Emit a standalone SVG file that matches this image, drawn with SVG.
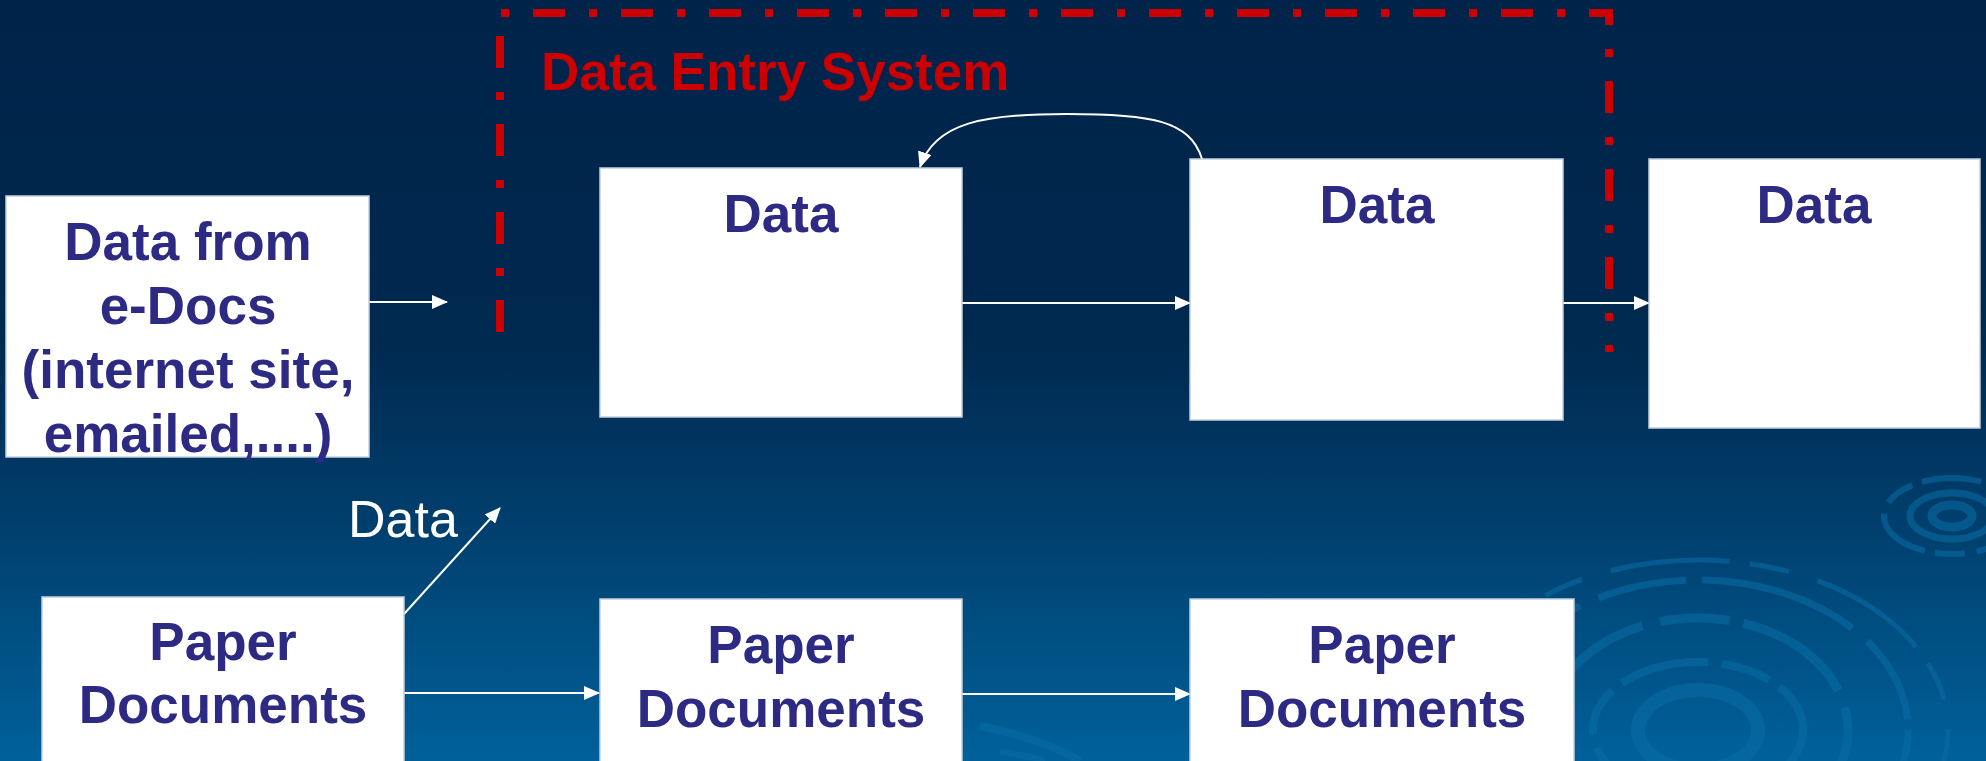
<svg xmlns="http://www.w3.org/2000/svg" width="1986" height="761" viewBox="0 0 1986 761">
<defs>
<linearGradient id="bg" x1="0" y1="0" x2="0" y2="1">
<stop offset="0" stop-color="#00234a"/>
<stop offset="0.45" stop-color="#00294f"/>
<stop offset="0.7" stop-color="#00406f"/>
<stop offset="1" stop-color="#00619a"/>
</linearGradient>
<marker id="ah" markerUnits="userSpaceOnUse" markerWidth="16" markerHeight="14" refX="15" refY="7" orient="auto">
<path d="M0,0 L16,7 L0,14 Z" fill="#ffffff"/>
</marker>
<style>
.box{fill:#ffffff;stroke:#c5cfdc;stroke-width:1.5}
.t{font-family:"Liberation Sans",Arial,sans-serif;font-weight:bold;font-size:53px;fill:#2d2a84;text-anchor:middle}
.c{stroke:#ffffff;stroke-width:2;fill:none;marker-end:url(#ah)}
.orn{fill:none;stroke:#0a6ea6;opacity:0.55}
</style>
</defs>
<rect x="0" y="0" width="1986" height="761" fill="url(#bg)"/>
<g id="ornaments">
<ellipse class="orn" cx="1952" cy="516" rx="20" ry="11" stroke-width="9"/>
<ellipse class="orn" cx="1952" cy="516" rx="42" ry="23" stroke-width="7"/>
<ellipse class="orn" cx="1952" cy="516" rx="68" ry="38" stroke-width="6" stroke-dasharray="60 12 30 10"/>
<ellipse class="orn" cx="1698" cy="730" rx="60" ry="40" stroke-width="14"/>
<ellipse class="orn" cx="1698" cy="730" rx="105" ry="68" stroke-width="8" stroke-dasharray="90 14 50 12"/>
<ellipse class="orn" cx="1698" cy="730" rx="150" ry="112" stroke-width="9" stroke-dasharray="120 18 70 14"/>
<ellipse class="orn" cx="1698" cy="730" rx="210" ry="150" stroke-width="7" stroke-dasharray="160 20 90 16"/>
<ellipse class="orn" cx="1698" cy="730" rx="250" ry="170" stroke-width="5" stroke-dasharray="40 30 120 20"/>
<path class="orn" d="M980,726 Q1040,738 1080,761" stroke-width="8"/>
<path class="orn" d="M1000,752 Q1030,756 1045,761" stroke-width="6"/>
</g>
<g id="data-entry-system">
<path d="M500,332 L500,13 L1609,13 L1609,352" fill="none" stroke="#cc0000" stroke-width="8" stroke-dasharray="32 24 8 24"/>
<text x="541" y="90" font-family="'Liberation Sans',Arial,sans-serif" font-weight="bold" font-size="53" fill="#cc0000">Data Entry System</text>
</g>
<g id="connectors">
<line class="c" x1="369" y1="302" x2="447" y2="302"/>
<line class="c" x1="962" y1="303" x2="1190" y2="303"/>
<line class="c" x1="1563" y1="303" x2="1649" y2="303"/>
<path class="c" d="M1202,159 C1190,120 1150,114 1067,114 C985,114 935,122 920,167"/>
<line class="c" x1="404" y1="614" x2="500" y2="508"/>
<line class="c" x1="404" y1="693" x2="599" y2="693"/>
<line class="c" x1="962" y1="694" x2="1190" y2="694"/>
<text x="348" y="537" font-family="'Liberation Sans',Arial,sans-serif" font-size="52" fill="#ffffff">Data</text>
</g>
<g id="node-edocs">
<rect class="box" x="6" y="196" width="363" height="261"/>
<text class="t" x="188" y="260">Data from</text>
<text class="t" x="188" y="324">e-Docs</text>
<text class="t" x="188" y="388">(internet site,</text>
<text class="t" x="188" y="452">emailed,....)</text>
</g>
<g id="node-data1">
<rect class="box" x="600" y="168" width="362" height="249"/>
<text class="t" x="781" y="232">Data</text>
</g>
<g id="node-data2">
<rect class="box" x="1190" y="159" width="373" height="261"/>
<text class="t" x="1377" y="223">Data</text>
</g>
<g id="node-data3">
<rect class="box" x="1649" y="159" width="331" height="269"/>
<text class="t" x="1814" y="223">Data</text>
</g>
<g id="node-paper1">
<rect class="box" x="42" y="597" width="362" height="180"/>
<text class="t" x="223" y="660">Paper</text>
<text class="t" x="223" y="723">Documents</text>
</g>
<g id="node-paper2">
<rect class="box" x="600" y="599" width="362" height="180"/>
<text class="t" x="781" y="663">Paper</text>
<text class="t" x="781" y="727">Documents</text>
</g>
<g id="node-paper3">
<rect class="box" x="1190" y="599" width="384" height="180"/>
<text class="t" x="1382" y="663">Paper</text>
<text class="t" x="1382" y="727">Documents</text>
</g>
</svg>
